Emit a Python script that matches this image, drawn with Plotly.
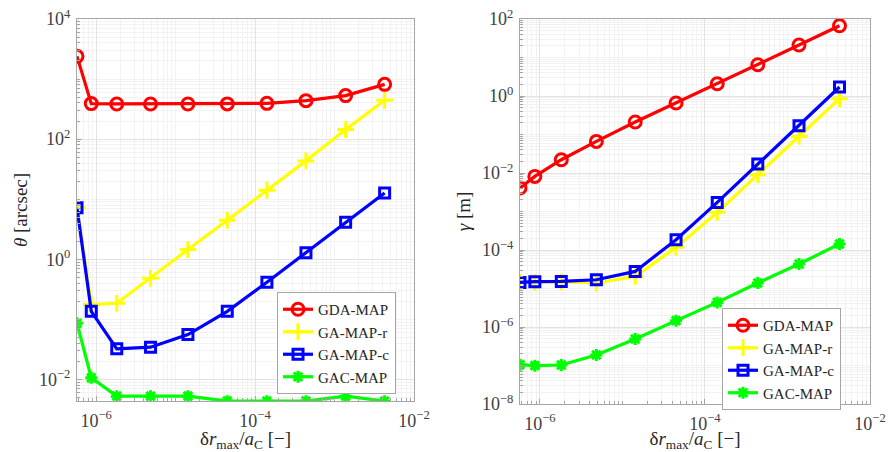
import numpy as np
import plotly.graph_objects as go

# Normalised maximum position error (shared abscissa)
dr_max = [5.75e-7, 8.7e-7, 1.82e-6, 4.84e-6, 1.43e-5, 4.47e-5, 1.41e-4, 4.37e-4, 1.38e-3, 4.27e-3]

# Angular error theta [arcsec]
theta_gda_map = [2390, 390, 385, 385, 385, 386, 394, 437, 530, 817]
theta_ga_map_r = [7.17, 0.176, 0.185, 0.483, 1.45, 4.46, 14.1, 43.4, 144, 443]
theta_ga_map_c = [7.17, 0.136, 0.0323, 0.0344, 0.0558, 0.136, 0.414, 1.28, 4.13, 12.7]
theta_gac_map = [0.0861, 0.0106, 0.00526, 0.00526, 0.00526, 0.00434, 0.00434, 0.00434, 0.00526, 0.00434]

# Position error gamma [m]
gamma_gda_map = [0.00407, 0.00817, 0.0221, 0.0662, 0.211, 0.658, 2.08, 6.5, 21.1, 67]
gamma_ga_map_r = [1.44e-5, 1.44e-5, 1.50e-5, 1.39e-5, 2.06e-5, 1.17e-4, 9.5e-4, 9.04e-3, 0.0893, 0.851]
gamma_ga_map_c = [1.44e-5, 1.50e-5, 1.53e-5, 1.69e-5, 2.78e-5, 1.85e-4, 1.72e-3, 0.0171, 0.169, 1.71]
gamma_gac_map = [1.05e-7, 9.9e-8, 1.03e-7, 1.87e-7, 4.88e-7, 1.46e-6, 4.36e-6, 1.39e-5, 4.33e-5, 1.43e-4]

series_names = ["GDA-MAP", "GA-MAP-r", "GA-MAP-c", "GAC-MAP"]
x_ticks = [-6, -4, -2]
theta_ticks = [-2, 0, 2, 4]
gamma_ticks = [-8, -6, -4, -2, 0, 2]

FONT = "Liberation Serif"
W, H = 888, 452

styles = [
    dict(color="#ff0000", symbol="circle-open", size=12),
    dict(color="#ffff00", symbol="cross-thin-open", size=12),
    dict(color="#0000ff", symbol="square-open", size=10),
    dict(color="#00ff00", symbol="asterisk-open", size=10),
]


def tick_text(exps):
    return ["10<sup>" + (str(e).replace("-", "\u2212")) + "</sup>" for e in exps]


def minor_vals(lo, hi):
    vals = []
    for d in range(int(np.floor(lo)), int(np.ceil(hi)) + 1):
        for m in range(1, 10):
            vals.append(m * 10.0 ** d)
    return vals


fig = go.Figure()

panels = [
    ("x", "y", "legend", [theta_gda_map, theta_ga_map_r, theta_ga_map_c, theta_gac_map]),
    ("x2", "y2", "legend2", [gamma_gda_map, gamma_ga_map_r, gamma_ga_map_c, gamma_gac_map]),
]

for xa, ya, leg, data in panels:
    for name, vals, st in zip(series_names, data, styles):
        fig.add_trace(go.Scatter(
            x=dr_max, y=vals, name=name, xaxis=xa, yaxis=ya, legend=leg,
            mode="lines+markers",
            line=dict(color=st["color"], width=3.2),
            marker=dict(symbol=st["symbol"], size=st["size"], color=st["color"],
                        line=dict(color=st["color"], width=3)),
        ))

xlo = float(np.log10(dr_max[0]))


def axis_common():
    return dict(
        type="log", showline=True, mirror=True, linecolor="#a6a6a6", linewidth=1,
        ticks="inside", ticklen=5, tickcolor="#a6a6a6", automargin=False,
        showgrid=True, gridcolor="#e3e3e3", gridwidth=1, zeroline=False,
        tickfont=dict(family=FONT, size=18, color="#404040"),
    )


def minor_cfg(lo, hi):
    return dict(tickmode="array", tickvals=minor_vals(lo, hi), showgrid=True,
                gridcolor="#f2f2f2", ticks="inside", ticklen=3, tickcolor="#a6a6a6")


def px_x(a, b):
    return [a / W, b / W]


def px_y(top, bottom):
    return [1 - bottom / H, 1 - top / H]


ax_title = "\u03b4<i>r</i><sub>max</sub>/<i>a</i><sub>C</sub> [\u2212]"
title_font = dict(family=FONT, size=19, color="#262626")
legend_font = dict(family=FONT, size=15, color="#262626")

fig.update_layout(
    width=W, height=H, margin=dict(l=0, r=0, t=0, b=0),
    paper_bgcolor="white", plot_bgcolor="white",
    xaxis=dict(**axis_common(), domain=px_x(77, 414), anchor="y",
               range=[xlo, -2], tickvals=[10.0 ** e for e in x_ticks], ticktext=tick_text(x_ticks),
               minor=minor_cfg(-7, -2), ticklabelstandoff=3,
               title=dict(text=ax_title, font=title_font, standoff=7)),
    yaxis=dict(**axis_common(), domain=px_y(19, 401), anchor="x",
               range=[-2.36, 4], tickvals=[10.0 ** e for e in theta_ticks], ticktext=tick_text(theta_ticks),
               minor=minor_cfg(-3, 4), ticklabelstandoff=2,
               title=dict(text="<i>\u03b8</i> [arcsec]", font=title_font, standoff=6)),
    xaxis2=dict(**axis_common(), domain=px_x(520, 870), anchor="y2",
                range=[xlo, -2], tickvals=[10.0 ** e for e in x_ticks], ticktext=tick_text(x_ticks),
                minor=minor_cfg(-7, -2), ticklabelstandoff=3,
                title=dict(text=ax_title, font=title_font, standoff=7)),
    yaxis2=dict(**axis_common(), domain=px_y(19, 404), anchor="x2",
                range=[-8, 2], tickvals=[10.0 ** e for e in gamma_ticks], ticktext=tick_text(gamma_ticks),
                minor=minor_cfg(-8, 2), ticklabelstandoff=2,
                title=dict(text="<i>\u03b3</i> [m]", font=title_font, standoff=6)),
    legend=dict(x=277 / W, y=1 - 292 / H, xanchor="left", yanchor="top",
                bgcolor="white", bordercolor="#a6a6a6", borderwidth=1,
                font=legend_font, itemwidth=30, tracegroupgap=0),
    legend2=dict(x=722 / W, y=1 - 308 / H, xanchor="left", yanchor="top",
                 bgcolor="white", bordercolor="#a6a6a6", borderwidth=1,
                 font=legend_font, itemwidth=30, tracegroupgap=0),
)

fig.write_html("out.html")
